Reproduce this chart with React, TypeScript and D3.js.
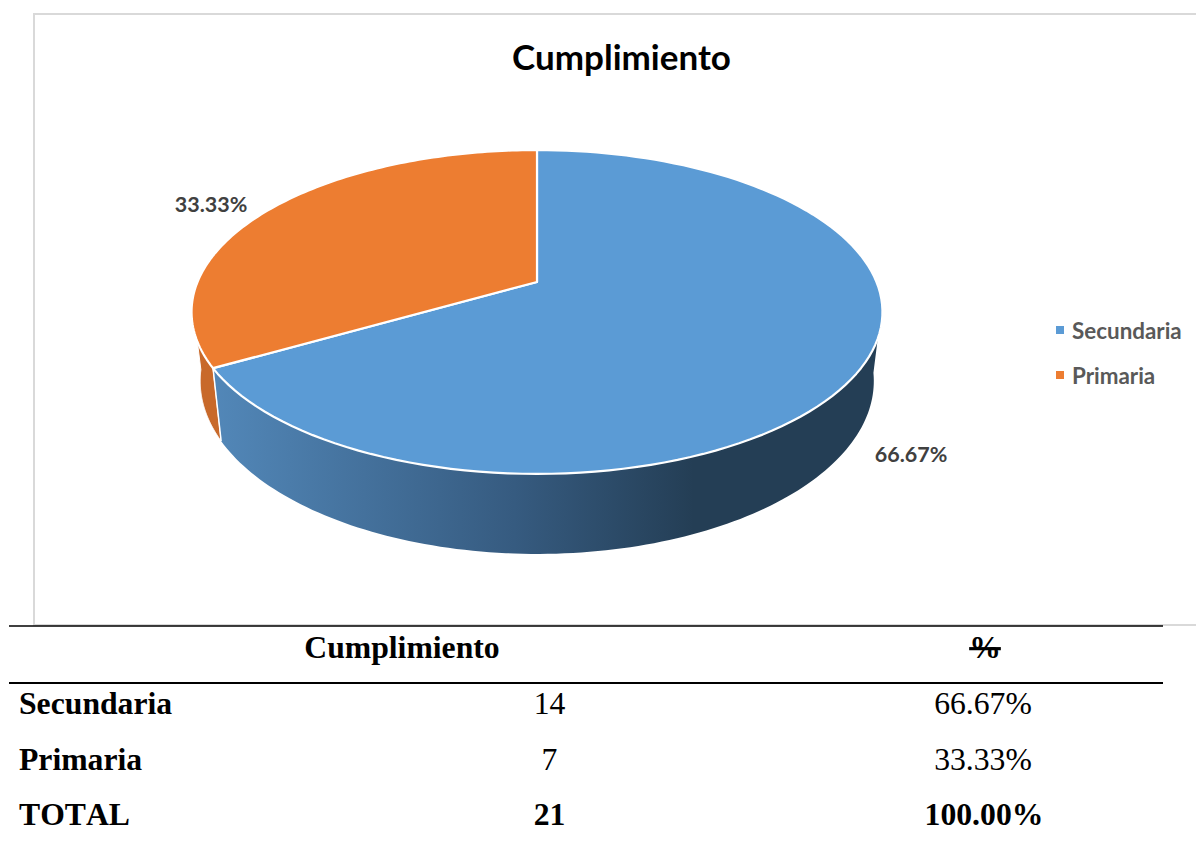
import React from 'react';
import * as d3 from 'd3';

const categories = ['Secundaria', 'Primaria'];
const counts = [14, 7];
const percents = ['66.67%', '33.33%'];
const colors = ['#5b9bd5', '#ed7d31'];
const totalRow = ['TOTAL', '21', '100.00%'];
const tableHeader = ['Cumplimiento', '%'];
const title = 'Cumplimiento';

const W = 1196;
const H = 845;
const SERIF = '"Liberation Serif", serif';
const SANS = 'Lato, "Open Sans", sans-serif';

// perspective projection of a disc: v is toward the viewer
const persp = 0.185;
const project = (cx: number, y0: number, c: number, a: number) => (ang: number): [number, number] => {
  const u = Math.sin(ang);
  const v = -Math.cos(ang);
  const w = 1 - persp * v;
  return [cx + (c * u) / w, y0 + (a * v) / w];
};
const topDisc = project(537, 282, 339.5, 156.4);
const botDisc = project(537, 349, 331, 167);

const arcPts = (f: (a: number) => [number, number], a0: number, a1: number) =>
  d3.range(0, 121).map((i) => f(a0 + ((a1 - a0) * i) / 120));
const line = d3.line();

const pieAngles = d3.pie<number>().sort(null).startAngle(0).endAngle(2 * Math.PI)(counts);
const deg = (d: number) => (d * Math.PI) / 180;

export default function App() {
  const [blue, orange] = pieAngles;
  const blueWall = [...arcPts(topDisc, deg(98), blue.endAngle), ...arcPts(botDisc, blue.endAngle, deg(98))];
  const orangeWall = [...arcPts(topDisc, orange.startAngle, deg(263)), ...arcPts(botDisc, deg(263), orange.startAngle)];
  const apex = topDisc(Math.PI / 2);
  const centre: [number, number] = [537, apex[1]];
  const rowBase = [714, 770, 825];
  return (
    <svg width={W} height={H} viewBox={`0 0 ${W} ${H}`} style={{ position: 'absolute', left: 0, top: 0, background: '#fff' }}>
      <defs>
        <linearGradient id="wall" gradientUnits="userSpaceOnUse" x1="215" y1="0" x2="880" y2="0">
          <stop offset="0" stopColor="#5287b8" />
          <stop offset="0.45" stopColor="#365b80" />
          <stop offset="0.72" stopColor="#243e55" />
          <stop offset="1" stopColor="#243e55" />
        </linearGradient>
      </defs>
      <path d="M1196 14 H34 V625 H1196" fill="none" stroke="#d9d9d9" strokeWidth={2} />
      <text x={621.5} y={70} textAnchor="middle" fontFamily={SANS} fontWeight={700} fontSize={35} fill="#000">{title}</text>

      <path d={line(orangeWall)! + 'Z'} fill="#c8692a" stroke="#fff" strokeWidth={1} />
      <path d={line(blueWall)! + 'Z'} fill="url(#wall)" stroke="none" />
      <path d={line([topDisc(blue.endAngle), botDisc(blue.endAngle)])!} stroke="#fff" strokeWidth={1.5} fill="none" />
      {pieAngles.map((s, i) => (
        <path
          key={categories[i]}
          d={line([centre, ...arcPts(topDisc, s.startAngle, s.endAngle)])! + 'Z'}
          fill={colors[i]}
          stroke="#fff"
          strokeWidth={2.2}
          strokeLinejoin="round"
        />
      ))}
      <text x={911} y={462} textAnchor="middle" fontFamily={SANS} fontWeight={700} fontSize={21.5} fill="#404040">{percents[0]}</text>
      <text x={211} y={212} textAnchor="middle" fontFamily={SANS} fontWeight={700} fontSize={21.5} fill="#404040">{percents[1]}</text>

      {categories.map((c, i) => (
        <g key={c}>
          <rect x={1056} y={326 + i * 45} width={8} height={8} fill={colors[i]} />
          <text x={1072} y={339 + i * 45} fontFamily={SANS} fontWeight={700} fontSize={22.4} fill="#595959">{c}</text>
        </g>
      ))}

      <line x1={9} x2={1163} y1={626} y2={626} stroke="#000" strokeWidth={1.3} />
      <line x1={9} x2={1163} y1={683} y2={683} stroke="#000" strokeWidth={2} />
      <g fontFamily={SERIF} fontSize={31.7} fill="#000" style={{ fontKerning: 'none' }}>
        <text x={402} y={658} textAnchor="middle" fontWeight={700}>{tableHeader[0]}</text>
        <text x={985} y={658} textAnchor="middle" fontWeight={700} textDecoration="line-through">{tableHeader[1]}</text>
        {categories.map((c, i) => (
          <g key={c}>
            <text x={19} y={rowBase[i]} fontWeight={700}>{c}</text>
            <text x={549.5} y={rowBase[i]} textAnchor="middle">{counts[i]}</text>
            <text x={983} y={rowBase[i]} textAnchor="middle">{percents[i]}</text>
          </g>
        ))}
        <text x={19} y={rowBase[2]} fontWeight={700}>{totalRow[0]}</text>
        <text x={549.5} y={rowBase[2]} textAnchor="middle" fontWeight={700}>{totalRow[1]}</text>
        <text x={984} y={rowBase[2]} textAnchor="middle" fontWeight={700}>{totalRow[2]}</text>
      </g>
    </svg>
  );
}
